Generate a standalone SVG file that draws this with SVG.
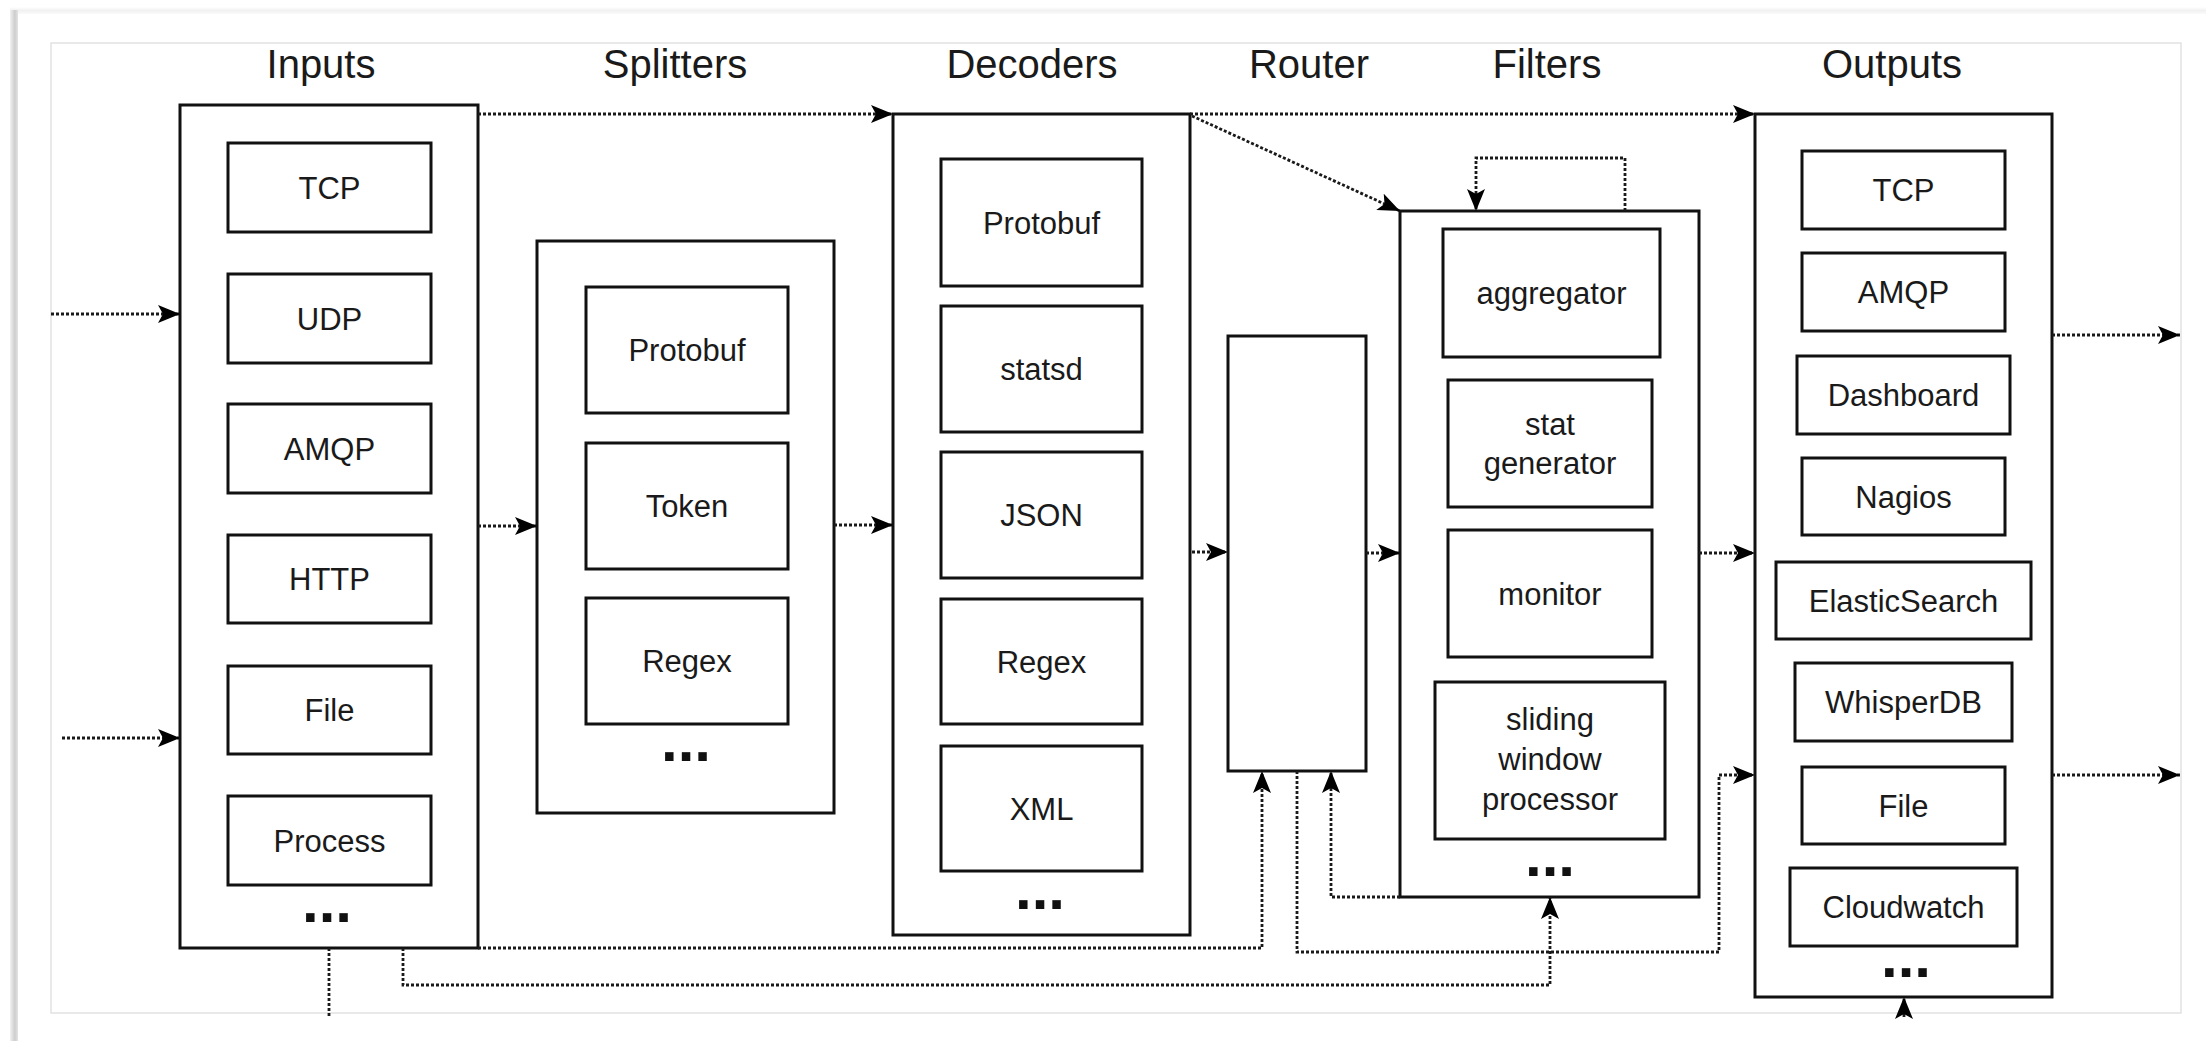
<svg xmlns="http://www.w3.org/2000/svg" width="2206" height="1041" viewBox="0 0 2206 1041">
<defs>
<style>
.box{fill:#fff;stroke:#111;stroke-width:3}
.t{font-family:"Liberation Sans",Arial,Helvetica,sans-serif;font-size:31px;fill:#1a1a1a;text-anchor:middle}
.h{font-family:"Liberation Sans",Arial,Helvetica,sans-serif;font-size:40px;fill:#1a1a1a;text-anchor:middle}
.dots{font-family:"Liberation Sans",Arial,sans-serif;font-size:60px;font-weight:bold;fill:#111;text-anchor:middle}
.c{fill:none;stroke:#1a1a1a;stroke-width:2.8;stroke-dasharray:3 2;marker-end:url(#arr)}
.cn{fill:none;stroke:#1a1a1a;stroke-width:2.8;stroke-dasharray:3 2}
</style>
<marker id="arr" markerUnits="userSpaceOnUse" markerWidth="22" markerHeight="18" viewBox="0 0 22 18" refX="22" refY="9" orient="auto">
<path d="M0,0 L22,9 L0,18 L5,9 Z" fill="#000"/>
</marker>
<linearGradient id="sh" x1="0" y1="0" x2="1" y2="0">
<stop offset="0" stop-color="#f2f2f2"/>
<stop offset="0.6" stop-color="#cdcdcd"/>
<stop offset="1" stop-color="#e4e4e4"/>
</linearGradient>
<linearGradient id="shT" x1="0" y1="0" x2="0" y2="1">
<stop offset="0" stop-color="#ffffff"/>
<stop offset="0.5" stop-color="#f1f1f1"/>
<stop offset="1" stop-color="#fafafa"/>
</linearGradient>
</defs>
<rect x="0" y="0" width="2206" height="1041" fill="#fff"/>
<rect x="10" y="7" width="2196" height="7" fill="url(#shT)"/>
<rect x="10" y="10" width="8" height="1031" fill="url(#sh)"/>
<rect x="51" y="43" width="2130" height="970" fill="#fff" stroke="#e2e2e2" stroke-width="1.5"/>

<g id="titles">
<text class="h" x="321" y="78">Inputs</text>
<text class="h" x="675" y="78">Splitters</text>
<text class="h" x="1032" y="78">Decoders</text>
<text class="h" x="1309" y="78">Router</text>
<text class="h" x="1547" y="78">Filters</text>
<text class="h" x="1892" y="78">Outputs</text>
</g>

<g id="inputs">
<rect class="box" x="180" y="105" width="298" height="843"/>
<g id="in-tcp"><rect class="box" x="228" y="143" width="203" height="89"/><text class="t" x="329.5" y="198.5">TCP</text></g>
<g id="in-udp"><rect class="box" x="228" y="274" width="203" height="89"/><text class="t" x="329.5" y="329.5">UDP</text></g>
<g id="in-amqp"><rect class="box" x="228" y="404" width="203" height="89"/><text class="t" x="329.5" y="459.5">AMQP</text></g>
<g id="in-http"><rect class="box" x="228" y="535" width="203" height="88"/><text class="t" x="329.5" y="590">HTTP</text></g>
<g id="in-file"><rect class="box" x="228" y="666" width="203" height="88"/><text class="t" x="329.5" y="721">File</text></g>
<g id="in-process"><rect class="box" x="228" y="796" width="203" height="89"/><text class="t" x="329.5" y="851.5">Process</text></g>
<text class="dots" x="327" y="922">...</text>
</g>

<g id="splitters">
<rect class="box" x="537" y="241" width="297" height="572"/>
<g id="sp-protobuf"><rect class="box" x="586" y="287" width="202" height="126"/><text class="t" x="687" y="361">Protobuf</text></g>
<g id="sp-token"><rect class="box" x="586" y="443" width="202" height="126"/><text class="t" x="687" y="517">Token</text></g>
<g id="sp-regex"><rect class="box" x="586" y="598" width="202" height="126"/><text class="t" x="687" y="672">Regex</text></g>
<text class="dots" x="686" y="761">...</text>
</g>

<g id="decoders">
<rect class="box" x="893" y="114" width="297" height="821"/>
<g id="de-protobuf"><rect class="box" x="941" y="159" width="201" height="127"/><text class="t" x="1041.5" y="233.5">Protobuf</text></g>
<g id="de-statsd"><rect class="box" x="941" y="306" width="201" height="126"/><text class="t" x="1041.5" y="380">statsd</text></g>
<g id="de-json"><rect class="box" x="941" y="452" width="201" height="126"/><text class="t" x="1041.5" y="526">JSON</text></g>
<g id="de-regex"><rect class="box" x="941" y="599" width="201" height="125"/><text class="t" x="1041.5" y="672.5">Regex</text></g>
<g id="de-xml"><rect class="box" x="941" y="746" width="201" height="125"/><text class="t" x="1041.5" y="819.5">XML</text></g>
<text class="dots" x="1040" y="909">...</text>
</g>

<g id="router">
<rect class="box" x="1228" y="336" width="138" height="435"/>
</g>

<g id="filters">
<rect class="box" x="1400" y="211" width="299" height="686"/>
<g id="fi-aggregator"><rect class="box" x="1443" y="229" width="217" height="128"/><text class="t" x="1551.5" y="304">aggregator</text></g>
<g id="fi-stat"><rect class="box" x="1448" y="380" width="204" height="127"/><text class="t" x="1550" y="435">stat</text><text class="t" x="1550" y="474">generator</text></g>
<g id="fi-monitor"><rect class="box" x="1448" y="530" width="204" height="127"/><text class="t" x="1550" y="604.5">monitor</text></g>
<g id="fi-sliding"><rect class="box" x="1435" y="682" width="230" height="157"/><text class="t" x="1550" y="730">sliding</text><text class="t" x="1550" y="770">window</text><text class="t" x="1550" y="810">processor</text></g>
<text class="dots" x="1550" y="876">...</text>
</g>

<g id="outputs">
<rect class="box" x="1755" y="114" width="297" height="883"/>
<g id="out-tcp"><rect class="box" x="1802" y="151" width="203" height="78"/><text class="t" x="1903.5" y="201">TCP</text></g>
<g id="out-amqp"><rect class="box" x="1802" y="253" width="203" height="78"/><text class="t" x="1903.5" y="303">AMQP</text></g>
<g id="out-dashboard"><rect class="box" x="1797" y="356" width="213" height="78"/><text class="t" x="1903.5" y="406">Dashboard</text></g>
<g id="out-nagios"><rect class="box" x="1802" y="458" width="203" height="77"/><text class="t" x="1903.5" y="507.5">Nagios</text></g>
<g id="out-es"><rect class="box" x="1776" y="562" width="255" height="77"/><text class="t" x="1903.5" y="611.5">ElasticSearch</text></g>
<g id="out-whisper"><rect class="box" x="1795" y="663" width="217" height="78"/><text class="t" x="1903.5" y="713">WhisperDB</text></g>
<g id="out-file"><rect class="box" x="1802" y="767" width="203" height="77"/><text class="t" x="1903.5" y="816.5">File</text></g>
<g id="out-cloudwatch"><rect class="box" x="1790" y="868" width="227" height="78"/><text class="t" x="1903.5" y="918">Cloudwatch</text></g>
<text class="dots" x="1906" y="977">...</text>
</g>

<g id="connectors">
<path class="c" d="M51,314 H180"/>
<path class="c" d="M62,738 H180"/>
<path class="c" d="M478,526 H537"/>
<path class="c" d="M478,114 H893"/>
<path class="c" d="M834,525 H893"/>
<path class="c" d="M1192,552 H1228"/>
<path class="c" d="M1366,553 H1400"/>
<path class="c" d="M1190,114 H1755"/>
<path class="c" d="M1192,116 L1400,211"/>
<path class="c" d="M1625,211 V158 H1476 V211"/>
<path class="c" d="M1699,553 H1755"/>
<path class="c" d="M2052,335 H2180"/>
<path class="c" d="M2052,775 H2180"/>
<path class="c" d="M478,948 H1262 V771"/>
<path class="cn" d="M329,948 V1017"/>
<path class="c" d="M403,948 V985 H1550 V897"/>
<path class="c" d="M1297,771 V952 H1719 V775 H1755"/>
<path class="c" d="M1400,897 H1331 V771"/>
<path class="c" d="M1904,1017 V997"/>
</g>
</svg>
